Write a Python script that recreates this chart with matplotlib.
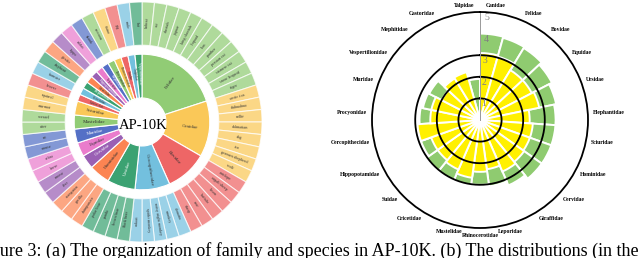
import numpy as np
import matplotlib.pyplot as plt

# ---- (a) family / species sunburst ----
families = ["Felidae", "Canidae", "Bovidae", "Cercopithecidae", "Ursidae", "Hominidae",
            "Cervidae", "Equidae", "Muridae", "Mustelidae", "Sciuridae", "Castoridae",
            "Cricetidae", "Elephantidae", "Giraffidae", "Hippopotamidae", "Leporidae",
            "Mephitidae", "Procyonidae", "Rhinocerotidae", "Suidae", "Talpidae",
            "Vespertilionidae"]
species = [
    ["bobcat", "cat", "cheetah", "jaguar", "king cheetah", "leopard", "lion", "panther",
     "persian cat", "siamese cat", "snow leopard", "tiger"],
    ["arctic fox", "chihuahua", "collie", "dalmatian", "dog", "fox", "german shepherd", "wolf"],
    ["antelope", "argali sheep", "bison", "buffalo", "cow", "sheep"],
    ["alouatta", "monkey", "noisy night monkey", "spider monkey", "uakari"],
    ["black bear", "brown bear", "panda", "polar bear"],
    ["chimpanzee", "gorilla", "orangutan"],
    ["deer", "moose"],
    ["horse", "zebra"],
    ["mouse", "rat"],
    ["otter", "weasel"],
    ["marmot", "squirrel"],
    ["beaver"], ["hamster"], ["elephant"], ["giraffe"], ["hippo"], ["rabbit"],
    ["skunk"], ["raccoon"], ["rhino"], ["pig"], ["mole"], ["bat"],
]
palette = ["#5470c6", "#91cc75", "#fac858", "#ee6666", "#73c0de",
           "#3ba272", "#fc8452", "#9a60b4", "#ea7ccc"]

# ---- (b) per-family distribution (log scale) ----
polar_families = ["Canidae", "Felidae", "Bovidae", "Equidae", "Ursidae", "Elephantidae",
                  "Sciuridae", "Hominidae", "Cervidae", "Giraffidae", "Leporidae",
                  "Rhinocerotidae", "Mustelidae", "Cricetidae", "Suidae", "Hippopotamidae",
                  "Cercopithecidae", "Procyonidae", "Muridae", "Vespertilionidae",
                  "Mephitidae", "Castoridae", "Talpidae"]
green_vals = [4.0, 3.95, 3.9, 3.75, 3.6, 3.5, 3.5, 3.5, 3.5, 3.3, 3.1, 3.0,
              3.05, 3.05, 3.05, 2.9, 2.75, 2.8, 2.7, 2.65, 2.2, 2.2, 1.9]
yellow_vals = [3.1, 3.05, 2.7, 2.7, 2.8, 2.3, 2.45, 2.45, 2.5, 2.6, 2.3, 2.4,
               2.7, 2.5, 2.4, 2.4, 2.9, 2.3, 2.3, 2.0, 2.25, 2.3, 0.0]
r_ticks = [1, 2, 3, 4, 5]
r_circles = [1, 2, 3]

fig = plt.figure(figsize=(6.4, 2.58), dpi=100)

# sunburst
ax = fig.add_axes([22 / 640, 16 / 258, 240 / 640, 240 / 258])

counts = [len(s) for s in species]
fam_colors = [palette[(i + 1) % len(palette)] for i in range(len(families))]
sp_names = [n for s in species for n in s]
sp_colors = [fam_colors[i] for i, s in enumerate(species) for _ in s]

r_in0, r_in1 = 0.20, 0.565
r_out0, r_out1 = 0.64, 1.0
ax.pie(counts, radius=r_in1, colors=fam_colors, startangle=90, counterclock=False,
       wedgeprops=dict(width=r_in1 - r_in0, edgecolor="white", linewidth=0.8))
wedges, _ = ax.pie([1] * len(sp_names), radius=r_out1, colors=sp_colors, startangle=90,
                   counterclock=False,
                   wedgeprops=dict(width=r_out1 - r_out0, edgecolor="white", linewidth=0.8))
for w in wedges:
    w.set_alpha(0.72)
ax.set_xlim(-1, 1)
ax.set_ylim(-1, 1)
ax.set_aspect("equal")
ax.axis("off")


def radial_text(a, r, s, size, color):
    phi = np.deg2rad(a)
    rot = a
    if 90 < a % 360 < 270:
        rot = a - 180
    ax.text(r * np.cos(phi), r * np.sin(phi), s, rotation=rot, rotation_mode="anchor",
            ha="center", va="center", fontsize=size, color=color,
            family="Liberation Serif")


total = sum(counts)
start = 0
for i, f in enumerate(families):
    mid = start + counts[i] / 2
    a = 90 - 360 * mid / total
    dark = fam_colors[i] in ("#5470c6", "#9a60b4", "#3ba272")
    radial_text(a, (r_in0 + r_in1) / 2 + 0.02, f, 3.6 if counts[i] > 1 else 2.6,
                "white" if dark else "#333333")
    start += counts[i]
for k, n in enumerate(sp_names):
    a = 90 - 360 * (k + 0.5) / total
    radial_text(a, (r_out0 + r_out1) / 2, n, 3.0, "#333333")

ax.text(0.01, -0.03, "AP-10K", ha="center", va="center", fontsize=10.5,
        family="Liberation Serif")

# polar distribution
pax = fig.add_axes([372 / 640, 30 / 258, 216 / 640, 216 / 258], projection="polar")
pax.set_theta_zero_location("N")
pax.set_theta_direction(-1)
n = len(polar_families)
step = 2 * np.pi / n
theta = np.arange(n) * step + step / 2
pax.bar(theta, green_vals, width=step, color="#8fcb70", edgecolor="white", linewidth=1.4)
pax.bar(theta, yellow_vals, width=step, color="#fff000", edgecolor="white", linewidth=1.4)
pax.set_ylim(0, 5)
pax.grid(False)
tt = np.linspace(0, 2 * np.pi, 400)
for rc in r_circles:
    pax.plot(tt, np.full_like(tt, rc), color="black", lw=1.3)
pax.plot([0, 0], [0, 5], color="#999999", lw=0.7)
pax.spines["polar"].set_linewidth(1.3)
pax.set_yticks(r_ticks)
pax.set_yticklabels([])
pax.set_xticks(theta)
pax.set_xticklabels([])
for t in r_ticks:
    pax.text(0.045, t - 0.25, str(t), fontsize=7, color="#808080",
             family="Liberation Serif", ha="left", va="center")

# family names around the rim
for th, name in zip(theta, polar_families):
    s, c = np.sin(th), np.cos(th)
    ha = "left" if s > 0.3 else ("right" if s < -0.3 else "center")
    va = "bottom" if c > 0.3 else ("top" if c < -0.3 else "center")
    pax.annotate(name, xy=(th, 5), xytext=(3.5 * s, 3.5 * c), textcoords="offset points",
                 ha=ha, va=va, fontsize=4.1, fontweight="bold",
                 family="Liberation Serif", annotation_clip=False)

fig.text(-0.037, 0.008,
         "Figure 3: (a) The organization of family and species in AP-10K. "
         "(b) The distributions (in the log scale) of",
         fontsize=13, family="Liberation Serif", ha="left", va="baseline")

fig.savefig("out.png", dpi=100)
